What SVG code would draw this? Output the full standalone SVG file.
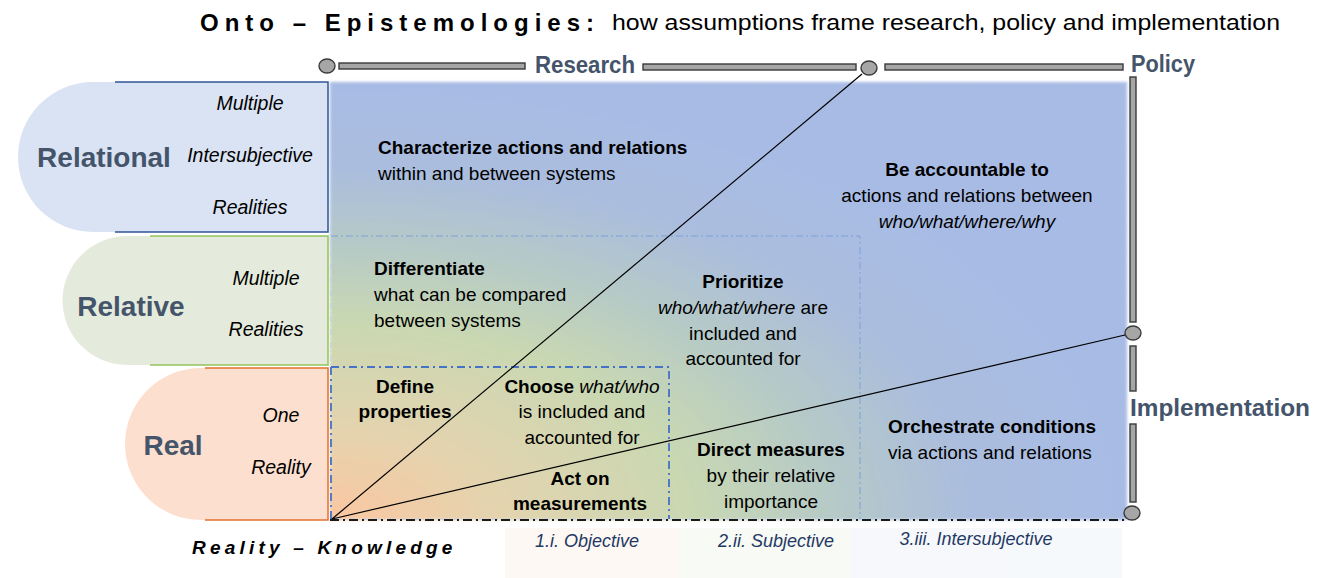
<svg xmlns="http://www.w3.org/2000/svg" width="1318" height="578" viewBox="0 0 1318 578">
  <defs>
    <radialGradient id="fieldGrad" gradientUnits="userSpaceOnUse" cx="332" cy="520" r="800" gradientTransform="translate(332 520) scale(1 0.55) translate(-332 -520)">
      <stop offset="0" stop-color="#FBC7A1"/>
      <stop offset="0.2" stop-color="#E4D3AE"/>
      <stop offset="0.45" stop-color="#C9D8B2"/>
      <stop offset="0.62" stop-color="#B6CAC6"/>
      <stop offset="0.8" stop-color="#AABDDE"/>
      <stop offset="1" stop-color="#A8BBE4"/>
    </radialGradient>
    <filter id="soft" x="-5%" y="-5%" width="110%" height="110%">
      <feGaussianBlur stdDeviation="1.6"/>
    </filter>
    <style>
      text { font-family: "Liberation Sans", Arial, sans-serif; }
      .body { font-size: 19px; fill: #000; }
      .b { font-weight: bold; }
      .i { font-style: italic; }
      .mid { text-anchor: middle; }
      .head { font-size: 23px; font-weight: bold; fill: #44546A; }
      .tab { font-size: 28px; font-weight: bold; fill: #44546A; }
      .tabsub { font-size: 19.5px; font-style: italic; fill: #000; }
      .axis { font-size: 18px; font-style: italic; fill: #1F3864; }
      .bar { fill: #A6A6A6; stroke: #3A3A3A; stroke-width: 1.4; }
      .knob { fill: #A6A6A6; stroke: #3A3A3A; stroke-width: 1.4; }
      .ray { stroke: #000; stroke-width: 1.2; fill: none; }
    </style>
  </defs>

  <!-- title -->
  <g id="title">
    <text x="200" y="31" font-size="24" font-weight="bold" letter-spacing="6" fill="#000">Onto – Epistemologies:</text>
    <text x="612" y="30" font-size="21.5" fill="#000" textLength="668" lengthAdjust="spacingAndGlyphs">how assumptions frame research, policy and implementation</text>
  </g>

  <!-- faint column tints under the axis labels -->
  <g id="column-tints" opacity="0.25">
    <rect x="505" y="528" width="175" height="50" fill="#FCE4D6"/>
    <rect x="680" y="528" width="170" height="50" fill="#E2EFDA"/>
    <rect x="850" y="528" width="272" height="50" fill="#DDE6F4"/>
  </g>

  <!-- central field -->
  <g id="field">
    <rect x="330" y="82" width="797" height="438" fill="url(#fieldGrad)" filter="url(#soft)"/>
    <rect x="331" y="83" width="795" height="436" fill="none" stroke="#BCCBEA" stroke-width="1" stroke-dasharray="6 3 1 3"/>
  </g>

  <!-- ontology tabs -->
  <g id="tab-relational">
    <path d="M328 82 H93 A75 75 0 0 0 93 232 H328 Z" fill="#DAE3F3"/>
    <path d="M115 82 H328 V232 H115" fill="none" stroke="#2F5597" stroke-width="1.5"/>
    <text x="104" y="167" class="tab mid">Relational</text>
    <text x="250" y="110" class="tabsub mid">Multiple</text>
    <text x="250" y="162" class="tabsub mid">Intersubjective</text>
    <text x="250" y="214" class="tabsub mid">Realities</text>
  </g>

  <g id="tab-relative">
    <path d="M328 236 H127 A64.5 64.5 0 0 0 127 365 H328 Z" fill="#E5EBDC"/>
    <path d="M150 236 H328 V365 H150" fill="none" stroke="#92C45E" stroke-width="1.5"/>
    <text x="131" y="316" class="tab mid">Relative</text>
    <text x="266" y="285" class="tabsub mid">Multiple</text>
    <text x="266" y="336" class="tabsub mid">Realities</text>
  </g>

  <g id="tab-real">
    <path d="M328 368 H201 A76 76 0 0 0 201 520 H328 Z" fill="#FCDFCE"/>
    <path d="M205 368 H328 V520 H205" fill="none" stroke="#E2712E" stroke-width="1.5"/>
    <text x="173" y="455" class="tab mid">Real</text>
    <text x="281" y="422" class="tabsub mid">One</text>
    <text x="281" y="474" class="tabsub mid">Reality</text>
  </g>

  <!-- nested epistemic regions -->
  <g id="regions">
    <path d="M331 236 H860 V519" fill="none" stroke="#7FA0D8" stroke-width="1" stroke-dasharray="7 3 2 3"/>
    <path d="M331 367 H669 V519 M331 367 V519" fill="none" stroke="#4472C4" stroke-width="1.8" stroke-dasharray="8 4 2 4"/>
  </g>

  <!-- frame rails: research, policy, implementation -->
  <g id="rails">
    <ellipse cx="327" cy="66" rx="8" ry="7" class="knob"/>
    <rect x="339" y="63" width="186" height="6" class="bar"/>
    <rect x="643" y="64" width="213" height="6" class="bar"/>
    <ellipse cx="869" cy="68" rx="8" ry="7" class="knob"/>
    <rect x="885" y="64" width="238" height="6" class="bar"/>
    <rect x="1130" y="77" width="6" height="245" class="bar"/>
    <ellipse cx="1133" cy="333" rx="8" ry="7" class="knob"/>
    <rect x="1130" y="346" width="6" height="45" class="bar"/>
    <rect x="1130" y="424" width="6" height="78" class="bar"/>
    <ellipse cx="1132" cy="513" rx="8" ry="7" class="knob"/>
    <text x="535" y="73" class="head" textLength="100" lengthAdjust="spacingAndGlyphs">Research</text>
    <text x="1131" y="72" class="head" textLength="64" lengthAdjust="spacingAndGlyphs">Policy</text>
    <text x="1130" y="416" class="head" textLength="180" lengthAdjust="spacingAndGlyphs">Implementation</text>
  </g>

  <!-- connectors -->
  <g id="connectors">
    <line x1="332" y1="519" x2="862" y2="74" class="ray"/>
    <line x1="332" y1="519" x2="1125" y2="335" class="ray"/>
    <line x1="330" y1="520" x2="1124" y2="520" stroke="#1A1A1A" stroke-width="2" stroke-dasharray="9 4 2 4"/>
  </g>

  <!-- field statements -->
  <g id="node-characterize">
    <text x="378" y="154" class="body b">Characterize actions and relations</text>
    <text x="378" y="180" class="body">within and between systems</text>
  </g>
  <g id="node-accountable">
    <text x="967" y="176" class="body b mid">Be accountable to</text>
    <text x="967" y="202" class="body mid">actions and relations between</text>
    <text x="967" y="228" class="body i mid">who/what/where/why</text>
  </g>
  <g id="node-differentiate">
    <text x="374" y="275" class="body b">Differentiate</text>
    <text x="374" y="301" class="body">what can be compared</text>
    <text x="374" y="327" class="body">between systems</text>
  </g>
  <g id="node-prioritize">
    <text x="743" y="288" class="body b mid">Prioritize</text>
    <text x="743" y="314" class="body mid"><tspan class="i">who/what/where</tspan> are</text>
    <text x="743" y="340" class="body mid">included and</text>
    <text x="743" y="365" class="body mid">accounted for</text>
  </g>
  <g id="node-define">
    <text x="405" y="393" class="body b mid">Define</text>
    <text x="405" y="418" class="body b mid">properties</text>
  </g>
  <g id="node-choose">
    <text x="582" y="393" class="body mid"><tspan class="b">Choose</tspan> <tspan class="i">what/who</tspan></text>
    <text x="582" y="418" class="body mid">is included and</text>
    <text x="582" y="444" class="body mid">accounted for</text>
  </g>
  <g id="node-act">
    <text x="580" y="485" class="body b mid">Act on</text>
    <text x="580" y="510" class="body b mid">measurements</text>
  </g>
  <g id="node-direct">
    <text x="771" y="456" class="body b mid">Direct measures</text>
    <text x="771" y="482" class="body mid">by their relative</text>
    <text x="771" y="508" class="body mid">importance</text>
  </g>
  <g id="node-orchestrate">
    <text x="888" y="433" class="body b">Orchestrate conditions</text>
    <text x="888" y="459" class="body">via actions and relations</text>
  </g>

  <!-- epistemic axis -->
  <g id="axis-labels">
    <text x="192" y="554" font-size="19" font-weight="bold" font-style="italic" letter-spacing="4.2" fill="#000">Reality – Knowledge</text>
    <text x="587" y="547" class="axis mid">1.i. Objective</text>
    <text x="776" y="547" class="axis mid">2.ii. Subjective</text>
    <text x="976" y="545" class="axis mid">3.iii. Intersubjective</text>
  </g>
</svg>
